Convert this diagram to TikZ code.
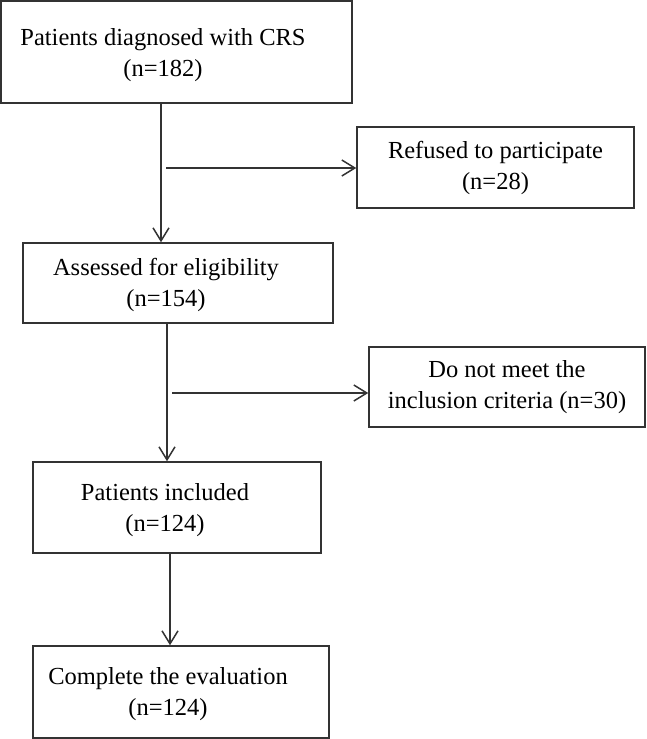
\documentclass[tikz,border=0pt]{standalone}
\usepackage{fontspec}
\setmainfont{Liberation Serif}
\usetikzlibrary{arrows.meta,positioning}

\begin{document}
\begin{tikzpicture}[x=1pt, y=-1pt, >={Straight Barb[length=13pt,width=16pt]},
	   line width=1.5pt, black!80, text=black,
	   every node/.style={font=\fontsize{24.5}{31}\selectfont},
	   flowbox/.style 2 args = {rectangle, draw, minimum width=#1, minimum height=#2,
	                           inner sep=0pt},
	   boxtext/.style = {align=center, inner sep=0pt}]
	\useasboundingbox (0,0) rectangle (646,739);

	%% Main column
	\node [flowbox={351pt}{102pt}] (patients) at (176.5,52) {};
	\node [boxtext] (patients-t) at (163,55) {Patients diagnosed with CRS\\(n=182)};
	\node [flowbox={310pt}{80pt}] (assess) at (178,283) {};
	\node [boxtext] (assess-t) at (166,285) {Assessed for eligibility\\(n=154)};
	\node [flowbox={288pt}{91pt}] (included) at (177,507.5) {};
	\node [boxtext] (included-t) at (165,510) {Patients included\\(n=124)};
	\node [flowbox={296pt}{92pt}] (complete) at (181,692) {};
	\node [boxtext] (complete-t) at (168,694) {Complete the evaluation\\(n=124)};

	%% Excluded on the right
	\node [flowbox={277pt}{81pt}, boxtext] (refused) at (495.5,167.5)
	      {Refused to participate\\(n=28)};
	\node [flowbox={276pt}{80pt}, boxtext] (excluded) at (507,387)
	      {Do not meet the\\inclusion criteria (n=30)};

	%% Branch points
	\coordinate (split1) at (166,168);
	\coordinate (split2) at (172,393);

	%% Paths
	\draw[->] (161,0 |- patients.south) -- (161,0 |- assess.north);
	\draw[->] (167,0 |- assess.south) -- (167,0 |- included.north);
	\draw[->] (170,0 |- included.south) -- (170,0 |- complete.north);
	\draw[->] (split1) -- (split1 -| refused.west);
	\draw[->] (split2) -- (split2 -| excluded.west);
\end{tikzpicture}
\end{document}
